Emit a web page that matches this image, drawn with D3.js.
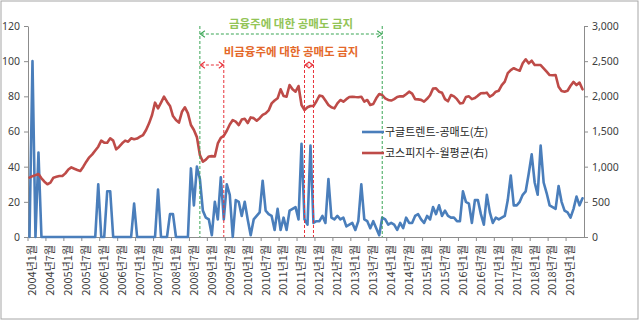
<!DOCTYPE html>
<html><head><meta charset="utf-8">
<script src="https://cdn.jsdelivr.net/npm/d3@7/dist/d3.min.js"></script>
<style>
html,body{margin:0;padding:0;background:#fff;}
svg{display:block;font-family:"Noto Sans CJK KR","Noto Sans",sans-serif;}
</style></head>
<body><svg id="c" width="640" height="324"></svg>
<script>
// ---------- data ----------
const years = [2004,2005,2006,2007,2008,2009,2010,2011,2012,2013,2014,2015,2016,2017,2018,2019];
const lastYearMonths = 6; // 2019: Jan..Jun
const categories = [];
years.forEach(y => { const n = y === 2019 ? lastYearMonths : 12; for (let m = 1; m <= n; m++) categories.push(y + "년" + m + "월"); });

// 구글트렌트-공매도 (left axis)
const googleTrend = [
  0,100,0,48,0,0,0,0,0,0,0,0,
  0,0,0,0,0,0,0,0,0,0,0,30,
  0,0,26,26,0,0,0,0,0,0,0,19,
  0,0,0,0,0,0,0,27,0,0,0,13,
  13,0,0,0,0,0,39,18,40,33,15,11,
  10,1,20,10,34,10,30,24,0,21,20,12,
  20,10,1,10,12,14,32,15,13,12,4,16,
  4,11,4,15,16,17,10,53,10,7,52,8,
  9,9,12,8,33,11,10,12,10,11,6,7,
  8,4,9,30,10,9,5,9,5,1,11,10,
  7,8,7,4,8,5,11,8,8,12,13,10,
  8,12,10,17,13,18,12,15,12,11,11,9,
  9,26,20,19,8,21,21,13,7,24,14,8,
  11,10,11,12,21,35,18,18,20,24,26,36,
  47,31,24,52,31,25,18,17,16,29,20,15,
  14,11,16,23,18,22
];
// 코스피지수-월평균 (right axis)
const kospi = [
  845,865,880,896,834,787,750,772,844,855,867,867,
  905,960,990,970,953,938,1000,1071,1133,1175,1230,1284,
  1370,1341,1341,1403,1370,1246,1284,1332,1370,1355,1403,1389,
  1400,1426,1450,1521,1616,1735,1910,1829,1910,1995,1924,1863,
  1720,1663,1626,1780,1844,1758,1592,1521,1420,1166,1070,1100,
  1145,1150,1145,1330,1410,1440,1510,1600,1663,1640,1592,1670,
  1680,1620,1700,1690,1654,1690,1735,1758,1800,1900,1940,1972,
  2100,2005,1995,2161,2100,2066,2147,1877,1806,1844,1863,1863,
  1930,2010,2000,1940,1877,1844,1829,1900,1948,1924,1960,1990,
  1995,1990,1986,1995,1924,1948,1877,1891,1972,2033,2019,1972,
  1948,1940,1960,1990,2000,2000,2030,2066,2040,1960,1957,1950,
  1925,1965,2015,2110,2114,2066,2050,1960,1930,2019,2000,1960,
  1900,1905,1990,2000,1960,1975,2010,2043,2045,2052,1995,2020,
  2066,2080,2160,2210,2330,2374,2400,2380,2365,2470,2526,2469,
  2507,2445,2445,2445,2398,2350,2303,2300,2303,2137,2075,2066,
  2080,2150,2205,2160,2195,2100
];
const seriesNames = ["구글트렌트-공매도(左)", "코스피지수-월평균(右)"];
const leftTicks = [0,20,40,60,80,100,120];
const rightTicks = [0,500,1000,1500,2000,2500,3000];
const financialBan = ["2008년10월","2013년11월"];
const nonFinancialBans = [["2008년10월","2009년6월"],["2011년9월","2011년12월"]];
const financialBanLabel = "금융주에 대한 공매도 금지";
const nonFinancialBanLabel = "비금융주에 대한 공매도 금지";

// ---------- layout ----------
const L = 28, R = 584, T = 26, B = 237;
const svg = d3.select("#c");
svg.append("rect").attr("x",1).attr("y",1).attr("width",637).attr("height",318)
  .attr("fill","#fff").attr("stroke","#a6a6a6").attr("stroke-width",1);

const x = d3.scaleBand().domain(categories).range([L, R]).padding(0);
const bw = x.bandwidth();
const xc = c => x(c) + bw / 2;
const yL = d3.scaleLinear().domain([0,120]).range([B, T]);
const yR = d3.scaleLinear().domain([0,3000]).range([B, T]);

const axisColor = "#8c8c8c", textColor = "#404040";
function styleAxis(g){
  g.selectAll(".domain").attr("stroke", axisColor);
  g.selectAll(".tick line").attr("stroke", axisColor);
  g.selectAll("text").attr("fill", textColor).style("font-size","10.5px")
    .style("font-family","'Noto Sans','Noto Sans CJK KR',sans-serif");
}
// left axis
svg.append("g").attr("transform",`translate(${L},0)`)
  .call(d3.axisLeft(yL).tickValues(leftTicks).tickSize(4).tickSizeOuter(0).tickPadding(4))
  .call(styleAxis);
// right axis
svg.append("g").attr("transform",`translate(${R},0)`)
  .call(d3.axisRight(yR).tickValues(rightTicks).tickFormat(d3.format(",")).tickSize(4).tickSizeOuter(0).tickPadding(4))
  .call(styleAxis);
// bottom axis
const labelCats = categories.filter((c,i) => i % 6 === 0);
const gx = svg.append("g").attr("transform",`translate(0,${B})`)
  .call(d3.axisBottom(x).tickValues(labelCats).tickSize(4).tickSizeOuter(0));
gx.selectAll(".tick line").attr("x1",-bw/2).attr("x2",-bw/2);
gx.selectAll(".tick text")
  .attr("transform","rotate(-90)").attr("text-anchor","end")
  .attr("x",-8).attr("y",3).attr("dy","0.35em")
  .style("font-size","11px").style("font-family","'Noto Sans CJK KR',sans-serif")
  .attr("fill",textColor);
gx.selectAll(".domain").attr("stroke", axisColor);
gx.selectAll(".tick line").attr("stroke", axisColor);

// ---------- series ----------
const blue = "#4a7ebb", red = "#be4b48";
const lineL = d3.line().x((d,i) => xc(categories[i])).y(d => yL(d));
const lineR = d3.line().x((d,i) => xc(categories[i])).y(d => yR(d));
svg.append("path").datum(googleTrend).attr("d", lineL)
  .attr("fill","none").attr("stroke",blue).attr("stroke-width",2.6).attr("stroke-linejoin","round").attr("stroke-linecap","round");
svg.append("path").datum(kospi).attr("d", lineR)
  .attr("fill","none").attr("stroke",red).attr("stroke-width",2.6).attr("stroke-linejoin","round").attr("stroke-linecap","round");

// ---------- ban annotations ----------
const green = "#3aa655", redDash = "#e8323a";
function vline(xp, y1, col){
  svg.append("line").attr("x1",xp).attr("x2",xp).attr("y1",y1).attr("y2",B)
    .attr("stroke",col).attr("stroke-width",1).attr("stroke-dasharray","3,2");
}
function darrow(x1, x2, yy, col){
  svg.append("line").attr("x1",x1+1).attr("x2",x2-1).attr("y1",yy).attr("y2",yy)
    .attr("stroke",col).attr("stroke-width",1.1).attr("stroke-dasharray","3,2");
  const h = 5, w = 3.2;
  svg.append("path").attr("d",`M${x1+h},${yy-w}L${x1+0.5},${yy}L${x1+h},${yy+w}M${x2-h},${yy-w}L${x2-0.5},${yy}L${x2-h},${yy+w}`)
    .attr("fill","none").attr("stroke",col).attr("stroke-width",1.1);
}
// non-financial (red)
nonFinancialBans.forEach(([a,b]) => {
  if (a !== financialBan[0]) vline(xc(a), 60, redDash);
  vline(xc(b), 60, redDash);
  darrow(xc(a), xc(b), 65, redDash);
});
// financial (green)
vline(xc(financialBan[0]), T, green);
vline(xc(financialBan[1]), T, green);
darrow(xc(financialBan[0]), xc(financialBan[1]), 34, green);

const midX = (xc(financialBan[0]) + xc(financialBan[1])) / 2;
svg.append("text").attr("x", midX).attr("y", 28).attr("text-anchor","middle")
  .style("font-size","11.5px").style("font-weight","bold").attr("fill","#92c456").text(financialBanLabel);
svg.append("text").attr("x", midX).attr("y", 56).attr("text-anchor","middle")
  .style("font-size","11.5px").style("font-weight","bold").attr("fill","#e4692a").text(nonFinancialBanLabel);

// ---------- legend ----------
const lg = svg.append("g");
[[blue, 132],[red, 153]].forEach(([col, yy], i) => {
  lg.append("line").attr("x1",362).attr("x2",384).attr("y1",yy).attr("y2",yy)
    .attr("stroke",col).attr("stroke-width",2.6);
  lg.append("text").attr("x",385).attr("y",yy).attr("dy","0.35em")
    .style("font-size","11px").attr("fill","#262626").text(seriesNames[i]);
});
</script></body></html>
